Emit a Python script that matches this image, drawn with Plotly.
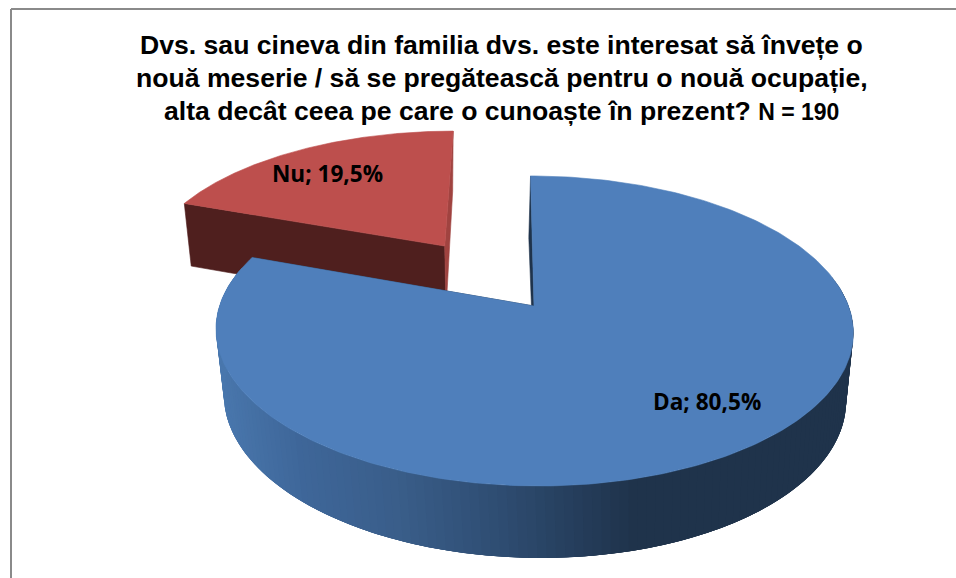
import numpy as np
import plotly.graph_objects as go

categories = ["Da", "Nu"]
shares = [80.5, 19.5]
top_colors = ["#4f7fbb", "#bd4f4d"]
cut_colors = ["#1f334b", "#4f1f1e"]
title_lines = [
    "Dvs. sau cineva din familia dvs. este interesat să învețe o",
    "nouă meserie / să se pregătească pentru o nouă ocupație,",
    "alta decât ceea pe care o cunoaște în prezent?",
]
sample_note = "N = 190"
explode = [0.0, 0.518]

# side-wall shading: pixel x -> colour
grad_x = [216, 300, 400, 500, 570, 640, 860]
grad_rgb = [(0x4a, 0x78, 0xae), (0x3f, 0x67, 0x9a), (0x3a, 0x5e, 0x8a),
            (0x2f, 0x4e, 0x73), (0x27, 0x40, 0x5f), (0x1f, 0x33, 0x4b), (0x1f, 0x33, 0x4b)]

W, H = 956, 578
X0, Y0, A, B, P, SK = 534.0, 306.0, 314.5, 151.0, 0.161, -4.0
Y1, A2, B2, SK2 = 372.0, 307.0, 156.0, -6.0


def top(u, v):
    w = 1 + P * v
    return X0 + (A * u + SK * v) / w, Y0 - B * v / w


def low(u, v):
    w = 1 + P * v
    return X0 + (A2 * u + SK2 * v) / w, Y1 - B2 * v / w


def shade(x):
    r = [np.interp(x, grad_x, [c[i] for c in grad_rgb]) for i in range(3)]
    return "rgb(%d,%d,%d)" % tuple(r)


def poly(pts, color, lw=0.6):
    xs, ys = zip(*pts)
    return go.Scatter(x=list(xs) + [xs[0]], y=list(ys) + [ys[0]], mode="lines",
                      fill="toself", fillcolor=color,
                      line=dict(color=color, width=lw),
                      hoverinfo="skip", showlegend=False)


fractions = np.cumsum([0] + shares) / sum(shares) * 2 * np.pi
traces = []
labels = []
shifts = [(31, 0), (-13, 3)]
order = [1, 0]  # farther slice first
for i in order:
    a0, a1 = fractions[i], fractions[i + 1]
    mid = (a0 + a1) / 2
    du, dv = explode[i] * np.sin(mid), explode[i] * np.cos(mid)
    th = np.linspace(a0, a1, 300)
    us, vs = du + np.sin(th), dv + np.cos(th)

    # cut faces
    for a in (a0, a1):
        ue, ve = du + np.sin(a), dv + np.cos(a)
        c = cut_colors[i]
        if i == 1 and a == a1:
            c = "#a04340"
        traces.append(poly([top(du, dv), top(ue, ve), low(ue, ve), low(du, dv)], c))
    # outer wall (only the blue slice shows it): overlapping strips painted in order
    if i == 0:
        edges = np.linspace(a0, a1, 200)
        step = edges[1] - edges[0]
        for t0 in edges[:-1]:
            if np.cos(t0 + step / 2) > 0.2:
                continue
            ts = np.linspace(t0, min(t0 + 4 * step, a1), 9)
            upper = [top(du + np.sin(t), dv + np.cos(t)) for t in ts]
            lower = [low(du + np.sin(t), dv + np.cos(t)) for t in ts]
            traces.append(poly(upper + lower[::-1], shade(top(du + np.sin(t0), dv + np.cos(t0))[0]), lw=0))
    # top face
    traces.append(poly([top(du, dv)] + [top(u, v) for u, v in zip(us, vs)], top_colors[i]))

    lx, ly = top(du + 0.7 * np.sin(mid), dv + 0.7 * np.cos(mid))
    labels.append(dict(x=lx, y=ly, xshift=shifts[i][0], yshift=shifts[i][1], showarrow=False,
                       text="<b>" + f"{categories[i]}; {shares[i]:.1f}%".replace(".", ",") + "</b>",
                       font=dict(family="Open Sans", size=22.6, color="#000000")))

third = title_lines[2] + f' <span style="font-size:23px">{sample_note}</span>'
for line, xx, yy in zip([title_lines[0], title_lines[1], third], [501, 502, 501], [45, 78, 111]):
    labels.append(dict(x=xx, y=yy, showarrow=False, text="<b>" + line + "</b>",
                       font=dict(family="Liberation Sans", size=26.6, color="#000000")))

fig = go.Figure(traces)
fig.update_layout(
    width=W, height=H, margin=dict(l=0, r=0, t=0, b=0),
    paper_bgcolor="white", plot_bgcolor="white", showlegend=False,
    xaxis=dict(range=[0, W], visible=False, fixedrange=True),
    yaxis=dict(range=[H, 0], visible=False, fixedrange=True),
    annotations=labels,
    shapes=[
        dict(type="line", xref="x", yref="y", x0=11, x1=W, y0=9, y1=9, line=dict(color="#8a8a8a", width=2)),
        dict(type="line", xref="x", yref="y", x0=11, x1=11, y0=9, y1=H, line=dict(color="#8a8a8a", width=2)),
    ],
)
fig.write_html("out.html", config=dict(displayModeBar=False),
               post_script="document.body.style.margin='0';document.body.style.overflow='hidden';")
